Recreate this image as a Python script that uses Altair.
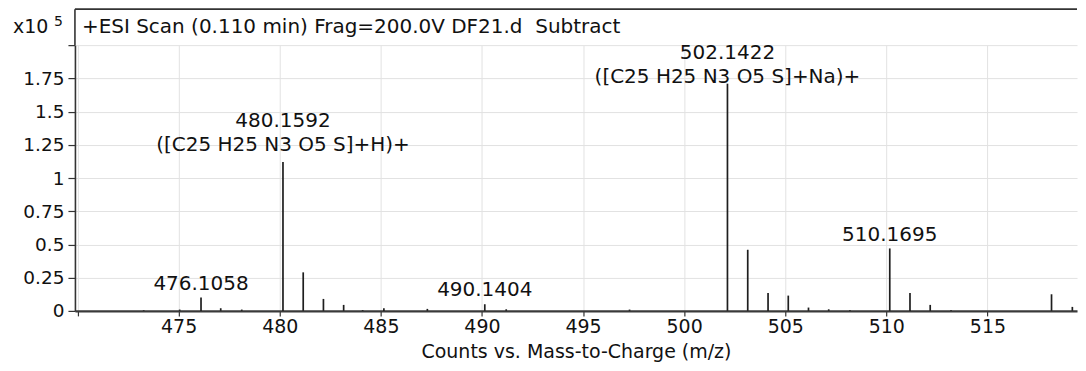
import altair as alt
import pandas as pd

# ---- data (intensity in units of 10^5 counts) ----
mz = [473.27, 475.05, 476.1058, 477.08, 478.12, 480.1592, 481.16, 482.16, 483.16,
      484.10, 485.15, 487.30, 490.1404, 491.20, 497.30, 502.1422, 503.145, 504.15,
      505.15, 506.15, 507.15, 508.20, 510.1695, 511.17, 512.17, 513.20, 518.17, 519.20]
intensity = [0.005, 0.01, 0.10, 0.02, 0.01, 1.12, 0.29, 0.09, 0.045,
             0.006, 0.02, 0.015, 0.05, 0.012, 0.01, 1.71, 0.46, 0.135,
             0.115, 0.025, 0.012, 0.005, 0.47, 0.135, 0.045, 0.005, 0.125, 0.03]

label_mz = [476.1058, 480.1592, 490.1404, 502.1422, 510.1695]
label_int = [0.10, 1.12, 0.05, 1.71, 0.47]
label_text = ["476.1058", "480.1592", "490.1404", "502.1422", "510.1695"]
formula_text = ["", "([C25 H25 N3 O5 S]+H)+", "", "([C25 H25 N3 O5 S]+Na)+", ""]

x_ticks = [470, 475, 480, 485, 490, 495, 500, 505, 510, 515]
y_ticks = [0, 0.25, 0.5, 0.75, 1.0, 1.25, 1.5, 1.75, 2.0]
header_text = "+ESI Scan (0.110 min) Frag=200.0V DF21.d\u00a0 Subtract"
exp_base = "x10"
exp_power = "5"
x_title = "Counts vs. Mass-to-Charge (m/z)"

# ---- styling / layout (not data) ----
W, H = 1003, 266
FONT = "DejaVu Sans"
HEADER_H = 36
number_dy = {"476.1058": -8, "480.1592": -35, "490.1404": -8, "502.1422": -25, "510.1695": -7.5}
formula_dy = {"480.1592": -11, "502.1422": -1}

peaks_df = pd.DataFrame({"mz": mz, "intensity": intensity})
labels_df = pd.DataFrame({"mz": label_mz, "intensity": label_int,
                          "label": label_text, "formula": formula_text})
one_row = pd.DataFrame({"k": [0]})

xscale = alt.Scale(domain=[469.87, 519.43], nice=False, zero=False)
yscale = alt.Scale(domain=[0, 2.0], nice=False)

x_axis = alt.Axis(values=x_ticks, title=x_title,
                  labelExpr="datum.value == 470 ? '' : datum.label",
                  labelFontSize=19, labelColor="#111", labelPadding=2,
                  tickSize=5, tickColor="#333", tickWidth=1.2,
                  domainColor="#3a3a3a", domainWidth=2.2,
                  grid=True, gridColor="#e2e2e2", gridWidth=1,
                  titleFontSize=19, titleFontWeight="normal", titleColor="#111",
                  titleBaseline="alphabetic", titleY=47, labelFlush=False)
y_axis = alt.Axis(values=y_ticks, title=None,
                  labelExpr="datum.value >= 2 ? '' : format(datum.value, '~g')",
                  labelFontSize=18.5, labelColor="#111", labelPadding=4,
                  tickSize=7, tickColor="#333", tickWidth=1.2,
                  domainColor="#333", domainWidth=1.6,
                  grid=True, gridColor="#e2e2e2", gridWidth=1, labelOverlap=False)

peaks = alt.Chart(peaks_df).mark_rule(color="#1e1e1e", strokeWidth=1.7).encode(
    x=alt.X("mz:Q", scale=xscale, axis=x_axis),
    y=alt.Y("intensity:Q", scale=yscale, axis=y_axis),
    y2=alt.datum(0),
)

layers = [peaks]
for lab in label_text:
    layers.append(
        alt.Chart(labels_df).transform_filter(alt.datum.label == lab)
        .mark_text(fontSize=20, font=FONT, color="#111", baseline="alphabetic",
                   align="center", dy=number_dy[lab])
        .encode(x=alt.X("mz:Q", scale=xscale, axis=x_axis),
                y=alt.Y("intensity:Q", scale=yscale, axis=y_axis),
                text="label:N")
    )
for lab, dy in formula_dy.items():
    layers.append(
        alt.Chart(labels_df).transform_filter(alt.datum.label == lab)
        .mark_text(fontSize=20, font=FONT, color="#111", baseline="alphabetic",
                   align="center", dy=dy)
        .encode(x=alt.X("mz:Q", scale=xscale, axis=x_axis),
                y=alt.Y("intensity:Q", scale=yscale, axis=y_axis),
                text="formula:N")
    )

# header box above the plot area
top_border = alt.Chart(one_row).mark_rule(color="#333", strokeWidth=1.6).encode(
    x=alt.value(0), x2=alt.value(W), y=alt.value(-HEADER_H))
left_border = alt.Chart(one_row).mark_rule(color="#333", strokeWidth=1.6).encode(
    x=alt.value(0), y=alt.value(-HEADER_H), y2=alt.value(0))
header = alt.Chart(one_row).mark_text(fontSize=20, font=FONT, color="#111",
                                      align="left", baseline="alphabetic").encode(
    x=alt.value(7), y=alt.value(-12), text=alt.value(header_text))
exp1 = alt.Chart(one_row).mark_text(fontSize=19, font=FONT, color="#111",
                                    align="left", baseline="alphabetic").encode(
    x=alt.value(-62), y=alt.value(-12), text=alt.value(exp_base))
exp2 = alt.Chart(one_row).mark_text(fontSize=14, font=FONT, color="#111",
                                    align="left", baseline="alphabetic").encode(
    x=alt.value(-21), y=alt.value(-19), text=alt.value(exp_power))

layers += [top_border, left_border, header, exp1, exp2]

chart = alt.layer(*layers).properties(
    width=W, height=H,
    padding={"left": 5, "top": 0, "right": 0, "bottom": 0},
).configure(font=FONT).configure_view(stroke=None)

chart.save("out.html", embed_options={"renderer": "svg", "actions": False})
